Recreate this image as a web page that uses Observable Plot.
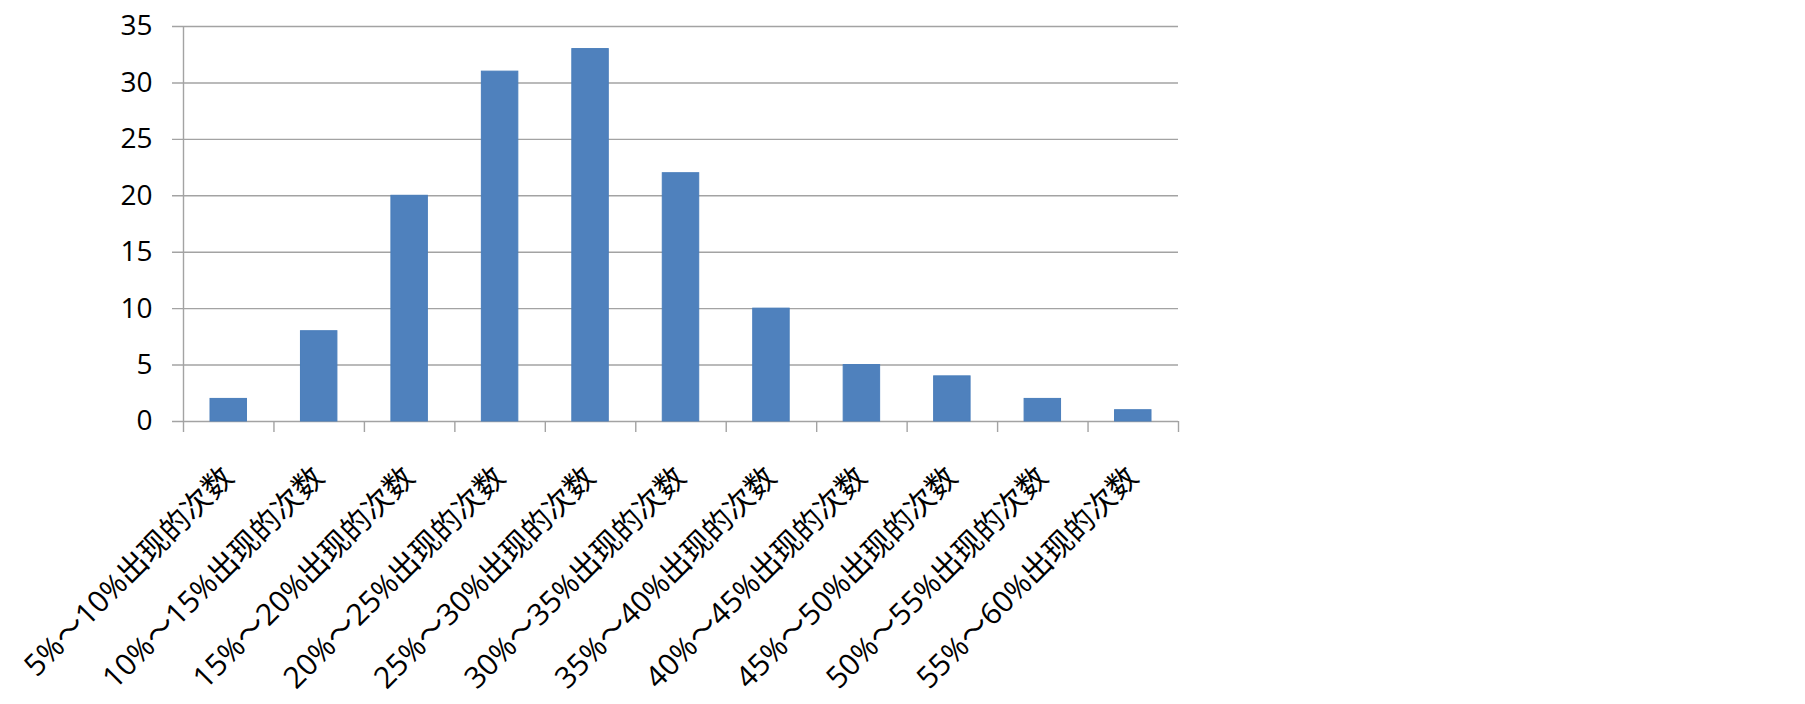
<!DOCTYPE html>
<html>
<head>
<meta charset="utf-8">
<script src="https://cdn.jsdelivr.net/npm/d3@7"></script>
<script src="https://cdn.jsdelivr.net/npm/@observablehq/plot@0.6"></script>
<style>
  html, body { margin: 0; padding: 0; background: #fff; }
  #chart svg { display: block; }
</style>
</head>
<body>
<div id="chart"></div>
<script>
const categories = [
  "5%～10%出现的次数", "10%～15%出现的次数", "15%～20%出现的次数", "20%～25%出现的次数",
  "25%～30%出现的次数", "30%～35%出现的次数", "35%～40%出现的次数", "40%～45%出现的次数",
  "45%～50%出现的次数", "50%～55%出现的次数", "55%～60%出现的次数"
];
const counts = [2, 8, 20, 31, 33, 22, 10, 5, 4, 2, 1];
const yTicks = [0, 5, 10, 15, 20, 25, 30, 35];

const data = categories.map((c, i) => ({c, i, v: counts[i]}));
const boundaries = d3.range(1, categories.length + 1);

const chart = Plot.plot({
  width: 1805,
  height: 704,
  marginLeft: 183,
  marginRight: 627,
  marginTop: 26,
  marginBottom: 283,
  style: {fontFamily: "'Open Sans', 'Noto Sans CJK SC', sans-serif", color: "#000", background: "#fff"},
  x: {domain: [0, categories.length], axis: null},
  y: {domain: [0, 35], axis: null},
  marks: [
    Plot.ruleY(yTicks, {y: d => d, x1: 0, x2: categories.length, stroke: "#a3a3a3", strokeWidth: 1.4, insetLeft: -11}),
    Plot.ruleX([0], {x: d => d, y1: 35, y2: 0, stroke: "#a3a3a3", strokeWidth: 1.4, insetBottom: -11}),
    Plot.ruleX(boundaries, {x: d => d, y1: 0, y2: 0, stroke: "#a3a3a3", strokeWidth: 1.4, insetBottom: -11}),
    Plot.rectY(data, {x1: "i", x2: d => d.i + 1, y: "v", fill: "#4F81BD", stroke: "#4A7EBB", strokeWidth: 1, insetLeft: 27, insetRight: 27}),
    Plot.text(yTicks, {x: 0, y: d => d, text: d => String(d), textAnchor: "end", dx: -31, fontSize: 28, fill: "#000"}),
    Plot.text(data, {x: d => d.i + 0.5, y: 0, text: "c", rotate: -45, textAnchor: "end", dx: 0, dy: 51, fontSize: 30, fill: "#000"})
  ]
});
document.getElementById("chart").appendChild(chart);
</script>
</body>
</html>
